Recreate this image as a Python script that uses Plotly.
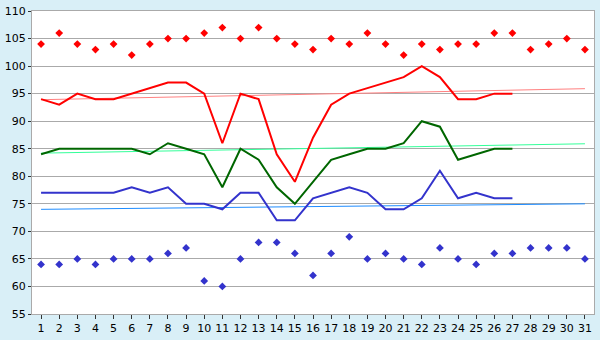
import plotly.graph_objects as go

days = list(range(1, 32))
y_ticks = list(range(55, 111, 5))
high_pts = [104, 106, 104, 103, 104, 102, 104, 105, 105, 106, 107, 105, 107, 105, 104, 103,
            105, 104, 106, 104, 102, 104, 103, 104, 104, 106, 106, 103, 104, 105, 103]
low_pts = [64, 64, 65, 64, 65, 65, 65, 66, 67, 61, 60, 65, 68, 68, 66, 62,
           66, 69, 65, 66, 65, 64, 67, 65, 64, 66, 66, 67, 67, 67, 65]
red_line = [94, 93, 95, 94, 94, 95, 96, 97, 97, 95, 86, 95, 94, 84, 79, 87,
            93, 95, 96, 97, 98, 100, 98, 94, 94, 95, 95]
green_line = [84, 85, 85, 85, 85, 85, 84, 86, 85, 84, 78, 85, 83, 78, 75, 79,
              83, 84, 85, 85, 86, 90, 89, 83, 84, 85, 85]
blue_line = [77, 77, 77, 77, 77, 78, 77, 78, 75, 75, 74, 77, 77, 72, 72, 76,
             77, 78, 77, 74, 74, 76, 81, 76, 77, 76, 76]
trend_x = [1, 31]
red_trend = [93.9, 95.9]
green_trend = [84.2, 85.9]
blue_trend = [74.0, 75.0]

line_days = days[:len(red_line)]

fig = go.Figure()
fig.add_trace(go.Scatter(x=trend_x, y=red_trend, mode="lines", line=dict(color="#ff8080", width=1)))
fig.add_trace(go.Scatter(x=trend_x, y=green_trend, mode="lines", line=dict(color="#33ff99", width=1)))
fig.add_trace(go.Scatter(x=trend_x, y=blue_trend, mode="lines", line=dict(color="#1e8cff", width=1)))
fig.add_trace(go.Scatter(x=line_days, y=red_line, mode="lines", line=dict(color="#ff0000", width=2)))
fig.add_trace(go.Scatter(x=line_days, y=green_line, mode="lines", line=dict(color="#006600", width=2)))
fig.add_trace(go.Scatter(x=line_days, y=blue_line, mode="lines", line=dict(color="#3333cc", width=2)))
fig.add_trace(go.Scatter(x=days, y=high_pts, mode="markers",
                         marker=dict(symbol="diamond", size=6, color="#ff0000")))
fig.add_trace(go.Scatter(x=days, y=low_pts, mode="markers",
                         marker=dict(symbol="diamond", size=6, color="#3333cc")))

fig.update_layout(
    width=600, height=340,
    margin=dict(l=26, r=5, t=5, b=20),
    paper_bgcolor="#d9eff7",
    plot_bgcolor="#ffffff",
    showlegend=False,
    font=dict(family="DejaVu Sans", size=11, color="#000000"),
)
fig.update_xaxes(range=[0.5, 31.5], tickvals=days, ticktext=[str(d) for d in days],
                 showgrid=False, zeroline=False, showline=True, linecolor="#aaaaaa",
                 linewidth=1, mirror=True, ticks="outside", ticklen=4, tickcolor="#333333",
                 tickfont=dict(size=11))
fig.update_yaxes(range=[55, 110], tickvals=y_ticks, ticktext=[str(v) for v in y_ticks],
                 ticklabeloverflow="allow",
                 showgrid=True, gridcolor="#aaaaaa", gridwidth=1,
                 zeroline=False, showline=True, linecolor="#aaaaaa", linewidth=1, mirror=True,
                 ticks="outside", ticklen=3, tickcolor="#333333", tickfont=dict(size=11))

fig.write_html("out.html")
